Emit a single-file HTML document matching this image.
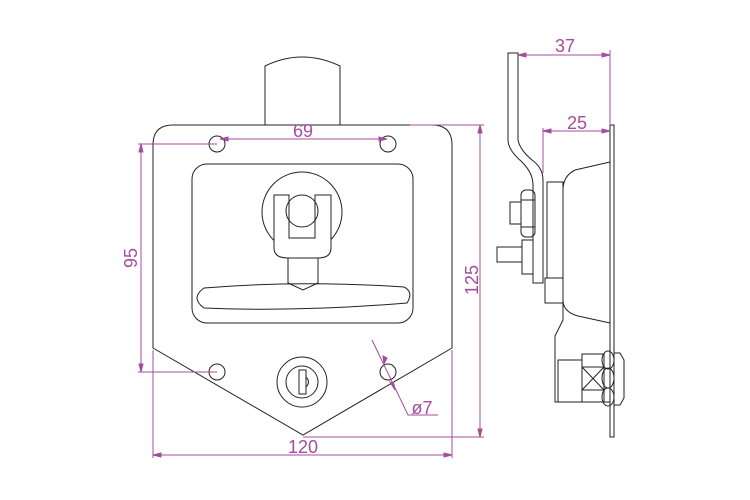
<!DOCTYPE html>
<html><head><meta charset="utf-8"><style>html,body{margin:0;padding:0;background:#fff}svg{display:block}</style></head>
<body>
<svg width="750" height="500" viewBox="0 0 750 500" xmlns="http://www.w3.org/2000/svg">
<g fill="none" stroke="#222" stroke-width="1">
<!-- front view -->
<path d="M265,125 V66 Q302,48 340,66 V125"/>
<path d="M173,125 H432 Q452,125 452,145 V348 L303,435 L153,348 V145 Q153,125 173,125 Z"/>
<circle cx="217" cy="144" r="8"/><circle cx="388" cy="144" r="8"/>
<circle cx="217" cy="372" r="8"/><circle cx="388" cy="372" r="8"/>
<rect x="192" y="164" width="221" height="159" rx="15"/>
<circle cx="302" cy="212" r="40"/>
<path d="M274,195 H289 V238 H315 V195 H331 V248 Q331,258 318,258 H288 Q274,258 274,248 Z" fill="#fff"/>
<circle cx="302" cy="211" r="16" fill="#fff"/>
<path d="M289,195 V238 H315 V195" />
<path d="M288,258 V283 L303,290 L318,283 V258"/>
<path d="M204,288 Q300,280 404,287 Q414,292 407,303 Q300,312 204,308 Q190,298 204,288 Z" fill="#fff"/>
<path d="M288,283 L303,290 L318,283"/>
<circle cx="302" cy="382" r="25"/><circle cx="302" cy="382" r="16"/>
<path d="M299,370 H306 V394 H299 Z M306,377 Q311,382 306,387"/>
<!-- side view -->
<path d="M508,53 H518 V140 Q520,150 532,160 Q543,168 543,180 V283 H533 V185 Q533,173 522,162 Q508,150 508,140 Z"/>
<rect x="610" y="125" width="4" height="312"/>
<path d="M610,162 L575,170 Q563,176 563,190 V300 Q563,312 578,316 L610,323"/>
<rect x="547" y="182" width="16" height="96"/>
<rect x="545" y="278" width="18" height="25"/>
<path d="M563,303 V320 L555,336 V402 H610"/>
<rect x="558" y="360" width="24" height="42"/>
<rect x="521" y="190" width="14" height="47" rx="5"/>
<path d="M521,200 H535 M521,227 H535"/>
<rect x="510" y="202" width="11" height="22"/>
<rect x="522" y="240" width="11" height="34"/>
<rect x="497" y="247" width="25" height="15"/>
<rect x="582" y="354" width="22" height="48"/>
<path d="M582,367 L604,390 M604,367 L582,390 M582,367 H604 M582,390 H604"/>
<ellipse cx="608" cy="360" rx="6" ry="9"/><ellipse cx="608" cy="378" rx="6" ry="10"/><ellipse cx="608" cy="397" rx="6" ry="9"/>
<path d="M614,353 H620 L624,360 V398 L620,405 H614"/>
</g>
<g fill="none" stroke="#a44d9c" stroke-width="1">
<path d="M220,139 H387"/><path d="M220,139 l8,-2 v4 z M387,139 l-8,-2 v4 z" fill="#a44d9c"/>
<path d="M138,144 H217 M138,372 H217 M141,144 V372"/>
<path d="M141,144 l-2,8 h4 z M141,372 l-2,-8 h4 z" fill="#a44d9c"/>
<path d="M410,125 H484 M303,437 H484 M480,125 V437"/>
<path d="M480,125 l-2,8 h4 z M480,437 l-2,-8 h4 z" fill="#a44d9c"/>
<path d="M153,350 V458 M452,350 V458 M153,455 H452"/>
<path d="M153,455 l8,-2 v4 z M452,455 l-8,-2 v4 z" fill="#a44d9c"/>
<path d="M372,340 L408,415 H438"/>
<path d="M384,364 l-1,-8 l4,2 z M394,384 l-4,-2 l5,8 z" fill="#a44d9c"/>
<path d="M518,55 H610 M610,50 V125"/>
<path d="M518,55 l8,-2 v4 z M610,55 l-8,-2 v4 z" fill="#a44d9c"/>
<path d="M543,131 H610 M543,128 V173"/>
<path d="M543,131 l8,-2 v4 z M610,131 l-8,-2 v4 z" fill="#a44d9c"/>
</g>
<g fill="#a44d9c" font-family="Liberation Sans, sans-serif" font-size="18">
<text x="303" y="137" text-anchor="middle">69</text>
<text x="303" y="453" text-anchor="middle">120</text>
<text x="422" y="414" text-anchor="middle">ø7</text>
<text x="565" y="52" text-anchor="middle">37</text>
<text x="577" y="129" text-anchor="middle">25</text>
<text transform="translate(137,258) rotate(-90)" text-anchor="middle">95</text>
<text transform="translate(478,280) rotate(-90)" text-anchor="middle">125</text>
</g>
</svg>
</body></html>
